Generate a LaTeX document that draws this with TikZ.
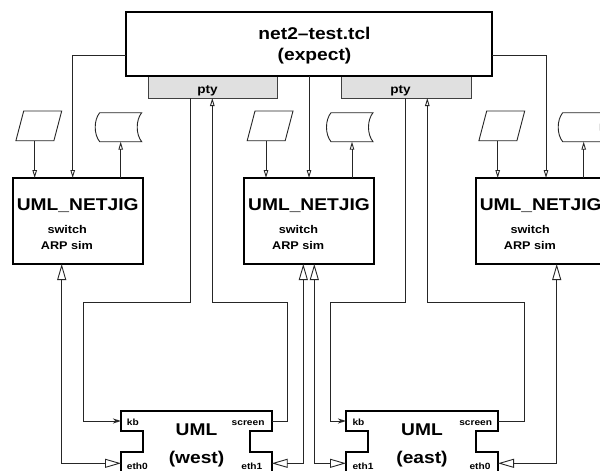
\documentclass[tikz,border=0pt]{standalone}
\usepackage{fontspec}
\setmainfont{Liberation Sans}[FakeStretch=1.13]
\usetikzlibrary{arrows.meta}
\tikzset{
  smalltri/.tip={Triangle[open,length=8pt,width=4.5pt]},
  kbtip/.tip={Stealth[open,length=8pt,width=5pt,inset=2.5pt]},
  bigtri/.tip={Triangle[open,length=16pt,width=9pt]},
  conn/.style={draw=black!85,line width=0.9pt},
  bigbox/.style={draw=black,line width=1.8pt,fill=white,inner sep=0pt,outer sep=0pt},
  ptybox/.style={draw=black!75,line width=0.9pt,fill=black!12,inner sep=0pt,outer sep=0pt},
  thinshape/.style={draw=black!85,line width=0.9pt,line join=miter},
  umlline/.style={draw=black,line width=1.8pt,line join=miter},
  bigtxt/.style={font=\bfseries\fontsize{17}{20}\selectfont,anchor=base,inner sep=0pt},
  midtxt/.style={font=\bfseries\fontsize{12}{14}\selectfont,anchor=base,inner sep=0pt},
  smalltxt/.style={font=\bfseries\fontsize{11.2}{13}\selectfont,anchor=base,inner sep=0pt},
  porttxt/.style={font=\bfseries\fontsize{9}{11}\selectfont,inner sep=0pt}
}
\begin{document}
\begin{tikzpicture}[x=1pt,y=-1pt]
\useasboundingbox (0,0) rectangle (600,471);
\fill[white] (0,0) rectangle (600,471);
\clip (0,0) rectangle (600,471);

% pty boxes and top box
\node[ptybox,minimum width=129pt,minimum height=22pt] (ptyL) at (212.5,87) {};
\node[ptybox,minimum width=130pt,minimum height=22pt] (ptyR) at (406,87) {};
\node[midtxt] (ptyLt) at (207.5,93) {pty};
\node[midtxt] (ptyRt) at (400.5,93) {pty};
\node[bigbox,minimum width=366pt,minimum height=64pt] (top) at (309,44) {};
\node[bigtxt] (t1) at (314.5,39.5) {net2–test.tcl};
\node[bigtxt] (t2) at (314.5,60.5) {(expect)};

% three netjig boxes with their input / output shapes
\foreach \i/\L in {1/12.7,2/244,3/475.7}{
  \node[bigbox,minimum width=130pt,minimum height=86pt] (nj\i) at (\L+65,221) {};
  \node[bigtxt] (njt\i) at (\L+65,210.7) {UML\_NETJIG};
  \node[smalltxt] (njs\i) at (\L+54.5,233.3) {switch};
  \node[smalltxt] (nja\i) at (\L+54.2,249) {ARP sim};
  \draw[thinshape] (\L+3.2,140.7) -- (\L+41.2,140.7) -- (\L+49,111) -- (\L+11,111) -- cycle;
  \coordinate (in\i) at (\L+22,140.7);
  \draw[thinshape] (\L+87,112.7) -- (\L+129,112.7)
     .. controls (\L+123,120) and (\L+123,134.4) .. (\L+129,141.7)
     -- (\L+87,141.7)
     .. controls (\L+81,134.4) and (\L+81,120) .. (\L+87,112.7) -- cycle;
  \coordinate (st\i) at (\L+108,141.7);
  \draw[conn,-{smalltri}] (in\i) -- (in\i |- nj\i.north);
  \draw[conn,-{smalltri}] (st\i |- nj\i.north) -- (st\i);
}

% top box to netjigs
\coordinate (a1) at (72.7,55);
\coordinate (a3) at (546,55);
\draw[conn,-{smalltri}] (top.west |- a1) -- (a1) -- (a1 |- nj1.north);
\draw[conn,-{smalltri}] (top.south) -- (nj2.north);
\draw[conn,-{smalltri}] (top.east |- a3) -- (a3) -- (a3 |- nj3.north);

% UML boxes
\draw[umlline] (121,480) -- (121,451.7) -- (142.7,451.7) -- (142.7,431) -- (121,431) -- (121,410.7)
  -- (271.7,410.7) -- (271.7,431) -- (250,431) -- (250,451.7) -- (271.7,451.7) -- (271.7,480);
\draw[umlline] (346,480) -- (346,451.7) -- (367.7,451.7) -- (367.7,431) -- (346,431) -- (346,410.7)
  -- (498,410.7) -- (498,431) -- (476.3,431) -- (476.3,451.7) -- (498,451.7) -- (498,480);
\node[bigtxt] (w1) at (196.5,435.7) {UML};
\node[bigtxt] (w2) at (196.5,463) {(west)};
\node[bigtxt] (e1t) at (422,435.7) {UML};
\node[bigtxt] (e2t) at (422,463) {(east)};
\node[porttxt,anchor=base west] (wkbt) at (126.7,425.7) {kb};
\node[porttxt,anchor=base east] (wsct) at (264.7,425.7) {screen};
\node[porttxt,anchor=base west] (weth0t) at (126.7,469.5) {eth0};
\node[porttxt,anchor=base east] (weth1t) at (262.5,469.5) {eth1};
\node[porttxt,anchor=base west] (ekbt) at (352.3,425.7) {kb};
\node[porttxt,anchor=base east] (esct) at (492.3,425.7) {screen};
\node[porttxt,anchor=base west] (eeth1t) at (352.3,469.5) {eth1};
\node[porttxt,anchor=base east] (eeth0t) at (490.7,469.5) {eth0};

% ports
\coordinate (wkb) at (121,421);
\coordinate (wsc) at (271.7,421);
\coordinate (ekb) at (346,421);
\coordinate (esc) at (498,421);
\coordinate (weth0) at (121,463.3);
\coordinate (weth1) at (271.7,463.3);
\coordinate (eeth1) at (346,463.3);
\coordinate (eeth0) at (498,463.3);

% pty connections
\coordinate (p1) at (190.7,302);
\coordinate (p2) at (212.3,302);
\coordinate (p3) at (405.7,302);
\coordinate (p4) at (427.3,302);
\draw[conn,-{kbtip}] (p1 |- ptyL.south) -- (p1) -- (83,302) -- (83,421) -- (wkb);
\draw[conn,-{smalltri}] (wsc) -- (287.7,421) -- (287.7,302) -- (p2) -- (p2 |- ptyL.south);
\draw[conn,-{kbtip}] (p3 |- ptyR.south) -- (p3) -- (330.7,302) -- (330.7,421) -- (ekb);
\draw[conn,-{smalltri}] (esc) -- (524,421) -- (524,302) -- (p4) -- (p4 |- ptyR.south);

% ethernet connections
\coordinate (c1) at (61.7,463.3);
\coordinate (c2) at (303.3,463.3);
\coordinate (c3) at (314.3,463.3);
\coordinate (c4) at (556.7,463.3);
\draw[conn,{bigtri}-{bigtri}] (c1 |- nj1.south) -- (c1) -- (weth0);
\draw[conn,{bigtri}-{bigtri}] (c2 |- nj2.south) -- (c2) -- (weth1);
\draw[conn,{bigtri}-{bigtri}] (c3 |- nj2.south) -- (c3) -- (eeth1);
\draw[conn,{bigtri}-{bigtri}] (c4 |- nj3.south) -- (c4) -- (eeth0);
\end{tikzpicture}
\end{document}
